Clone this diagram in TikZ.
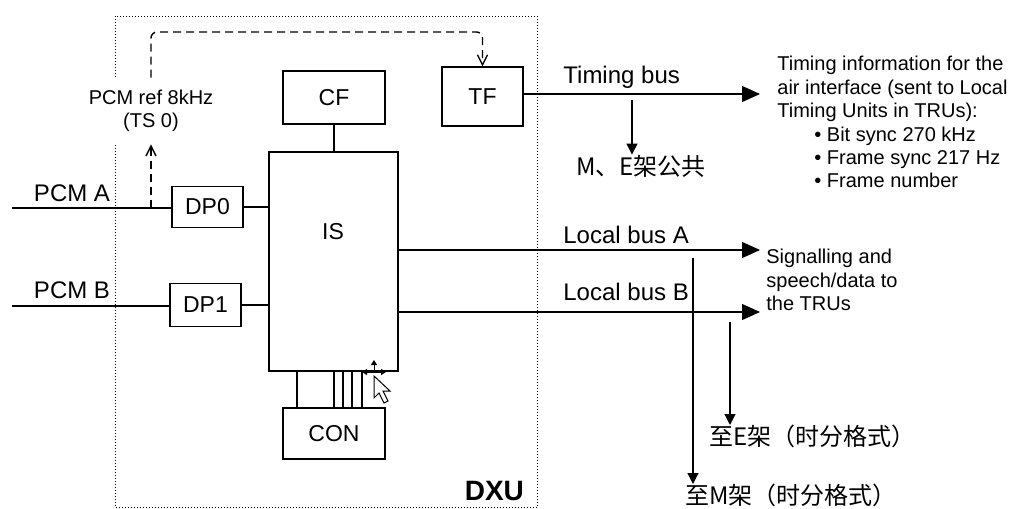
\documentclass[tikz,border=0pt]{standalone}
\usepackage{fontspec}
\setmainfont{Liberation Sans}
\newfontfamily\cjk{Noto Sans CJK SC}
\usetikzlibrary{calc,positioning,arrows.meta}
\tikzset{
  box/.style={draw, line width=0.6pt, inner sep=0pt, font=\fontsize{11.5}{13}\selectfont},
  bus/.style={line width=0.6pt},
  bigtip/.style={-{Triangle[length=9pt,width=8pt]}},
  smalltip/.style={-{Triangle[length=5.5pt,width=5.5pt]}},
  refline/.style={line width=0.7pt, dash pattern=on 4pt off 2.5pt, -{Straight Barb[length=5pt,width=5pt]}},
  small/.style={font=\fontsize{10}{11.7}\selectfont},
  cjklabel/.style={font=\cjk\fontsize{12}{14}\selectfont, inner sep=0pt},
  cross/.style={line width=0.5pt, -{Triangle[length=2.5pt,width=3pt]}},
}

\begin{document}
\begin{tikzpicture}[x=0.5pt, y=-0.5pt, font=\fontsize{12}{14}\selectfont]
\useasboundingbox (0,0) rectangle (1009,509);
% DXU frame
\draw[densely dotted, line width=0.5pt] (115,16) rectangle (537,507.5);
\node[font=\bfseries\fontsize{14}{16}\selectfont, anchor=base east] (DXU) at (531,500) {DXU};
% boxes
\node[box, minimum width=51pt, minimum height=26.5pt] (CF) at (334,97.5) {CF};
\node[box, minimum width=40.5pt, minimum height=29.5pt] (TF) at (482.5,96.5) {TF};
\node[box, minimum width=64.5pt, minimum height=109.5pt] (IS) at (333.5,261.5) {};
\node[font=\fontsize{11.5}{13}\selectfont] (ISt) at (333,232) {IS};
\node[box, minimum width=35.5pt, minimum height=20.5pt] (DP0) at (207.5,207) {DP0};
\node[box, minimum width=35.5pt, minimum height=21.5pt] (DP1) at (205.5,305) {DP1};
\node[box, minimum width=51pt, minimum height=25.5pt] (CON) at (334,433.5) {CON};
% PCM inputs
\coordinate (PCMA) at (12,208);
\coordinate (PCMB) at (12,306);
\node (PCMAt) at (72,193) {PCM A};
\node (PCMBt) at (72,290) {PCM B};
\draw[bus] (PCMA) -- (PCMA -| DP0.west);
\draw[bus] (PCMB) -- (PCMB -| DP1.west);
\draw[bus] (DP0.east) -- (DP0.east -| IS.west);
\draw[bus] (DP1.east) -- (DP1.east -| IS.west);
\draw[bus] (CF.south) -- (CF.south |- IS.north);
\foreach \x in {297,334,343,352,362}
  \draw[bus] (IS.south -| \x,0) -- (CON.north -| \x,0);
% reference clock
\coordinate (tap) at (151,208);
\coordinate (loop) at (151,32);
\node[small, fill=white, align=center, inner ysep=6pt] (PCMref) at (151,111) {PCM ref 8kHz\\(TS 0)};
\draw[refline] (tap) -- (PCMref.south);
\draw[refline, rounded corners=3pt] (PCMref.north) -- (loop) -| (TF.north);
% timing bus
\coordinate (TIM) at (760,94);
\draw[bus, bigtip] (TF.east |- TIM) -- (TIM);
\node[anchor=base west, inner sep=0pt] (TIMt) at (563,83) {Timing bus};
\coordinate (MEtop) at (632,100);
\node[cjklabel] (ME) at (641,166) {M、E架公共};
\draw[bus, smalltip] (MEtop) -- (MEtop |- ME.north);
\node[small, anchor=north west, align=left, inner sep=0pt] (info) at (777,56)
  {Timing information for the\\air interface (sent to Local\\Timing Units in TRUs):\\
   \hspace*{18.5pt}\textbullet\ Bit sync 270 kHz\\
   \hspace*{18.5pt}\textbullet\ Frame sync 217 Hz\\
   \hspace*{18.5pt}\textbullet\ Frame number};
% local buses
\coordinate (LBA) at (760,250);
\coordinate (LBB) at (760,312);
\draw[bus, bigtip] (IS.east |- LBA) -- (LBA);
\draw[bus, bigtip] (IS.east |- LBB) -- (LBB);
\node[anchor=base west, inner sep=0pt] (LBAt) at (563,243) {Local bus A};
\node[anchor=base west, inner sep=0pt] (LBBt) at (563,300) {Local bus B};
\node[small, anchor=north west, align=left, inner sep=0pt] (sig) at (766,249)
  {Signalling and\\speech/data to\\the TRUs};
% to M and E racks
\coordinate (Mtop) at (693,258);
\coordinate (Etop) at (730,322);
\node[cjklabel, anchor=north west] (toM) at (685,484) {至M架（时分格式）};
\node[cjklabel, anchor=north west] (toE) at (709,425) {至E架（时分格式）};
\draw[bus, smalltip] (Mtop) -- (Mtop |- toM.north);
\draw[bus, smalltip] (Etop) -- (Etop |- toE.north);
% cursor
\draw[cross] (374,372) -- (374,360);
\draw[cross] (374,372) -- (362,372);
\draw[cross] (374,372) -- (386,372);
\draw[line width=0.5pt, fill=white] (374,376) -- (374,398) -- (379,393) -- (384,403)
  -- (388,401) -- (383,391) -- (390,391) -- cycle;
\end{tikzpicture}
\end{document}
